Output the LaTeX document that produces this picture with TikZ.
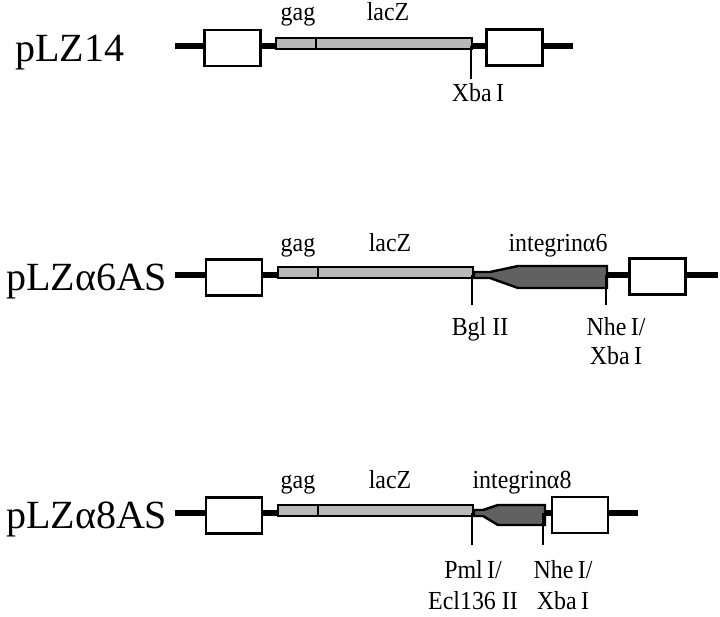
\documentclass[tikz,border=0pt]{standalone}
\usepackage{fontspec}
\setmainfont{Liberation Serif}
\newfontfamily\labfont[FakeStretch=0.92]{Liberation Serif}
\begin{document}
\begin{tikzpicture}[x=1pt,y=-1pt,
  backbone/.style={line width=6pt},
  ltr/.style={draw, line width=2.8pt, fill=white, minimum width=56pt, minimum height=36pt, inner sep=0pt},
  laczbar/.style={draw, line width=2.4pt, fill=gray!55},
  integ/.style={draw, line width=2.4pt, fill=black!62},
  divider/.style={line width=2.6pt},
  site/.style={line width=2.2pt},
  small/.style={font=\labfont\fontsize{26}{26}\selectfont, inner sep=0pt, anchor=base},
  big/.style={font=\fontsize{40}{40}\selectfont, inner sep=0pt, anchor=base west}]
\useasboundingbox (0,0) rectangle (720,616);

% ---------------- row 1: pLZ14 ----------------
\node[big] (n1) at (15,61) {pLZ14};
\coordinate (a1) at (175,46);
\coordinate (b1) at (573,46);
\draw[backbone] (a1) -- (b1);
\node[ltr] (l1) at (232.5,48) {};
\node[ltr] (r1) at (514.5,47.5) {};
\draw[laczbar] (276,38) rectangle (472,49);
\draw[divider] (316,38) -- (316,49);
\coordinate (s1) at (471,46);
\coordinate (t1) at (471,79);
\draw[site] (s1) -- (t1);
\node[small] (g1) at (298,20) {gag};
\node[small] (z1) at (388,20) {lacZ};
\node[small] (x1) at (478,101) {Xba\,I};

% ---------------- row 2: pLZa6AS ----------------
\node[big] (n2) at (6,290) {pLZα6AS};
\coordinate (a2) at (175,275);
\coordinate (b2) at (718,275);
\draw[backbone] (a2) -- (b2);
\node[ltr] (l2) at (234,277.5) {};
\node[ltr] (r2) at (657.5,276.5) {};
\draw[laczbar] (278,267) rectangle (473,278);
\draw[divider] (318,267) -- (318,278);
\draw[integ] (474,272) -- (490,272) -- (518,266) -- (607,266) -- (607,288) -- (518,288) -- (490,278) -- (474,278) -- cycle;
\coordinate (s2a) at (472,275);
\coordinate (t2a) at (472,305);
\coordinate (s2b) at (606,275);
\coordinate (t2b) at (606,305);
\draw[site] (s2a) -- (t2a);
\draw[site] (s2b) -- (t2b);
\node[small] (g2) at (298,251) {gag};
\node[small] (z2) at (390,251) {lacZ};
\node[small] (i2) at (558,251) {integrinα6};
\node[small] (bg2) at (480,335) {Bgl II};
\node[small] (nh2) at (616,335) {Nhe\,I/};
\node[small] (xb2) at (616,364) {Xba\,I};

% ---------------- row 3: pLZa8AS ----------------
\node[big] (n3) at (6,528) {pLZα8AS};
\coordinate (a3) at (175,513);
\coordinate (b3) at (638,513);
\draw[backbone] (a3) -- (b3);
\node[ltr] (l3) at (234,515.5) {};
\node[ltr] (r3) at (580,515) {};
\draw[laczbar] (278,505) rectangle (473,516);
\draw[divider] (318,505) -- (318,516);
\draw[integ] (474,510) -- (483,510) -- (498,505) -- (545,505) -- (545,525) -- (498,525) -- (483,516) -- (474,516) -- cycle;
\coordinate (s3a) at (472,513);
\coordinate (t3a) at (472,545);
\coordinate (s3b) at (543,513);
\coordinate (t3b) at (543,545);
\draw[site] (s3a) -- (t3a);
\draw[site] (s3b) -- (t3b);
\node[small] (g3) at (298,488) {gag};
\node[small] (z3) at (390,488) {lacZ};
\node[small] (i3) at (522,488) {integrinα8};
\node[small] (pm3) at (473,578) {Pml\,I/};
\node[small] (ec3) at (473,609) {Ecl136 II};
\node[small] (nh3) at (563,578) {Nhe\,I/};
\node[small] (xb3) at (563,609) {Xba\,I};
\end{tikzpicture}
\end{document}
